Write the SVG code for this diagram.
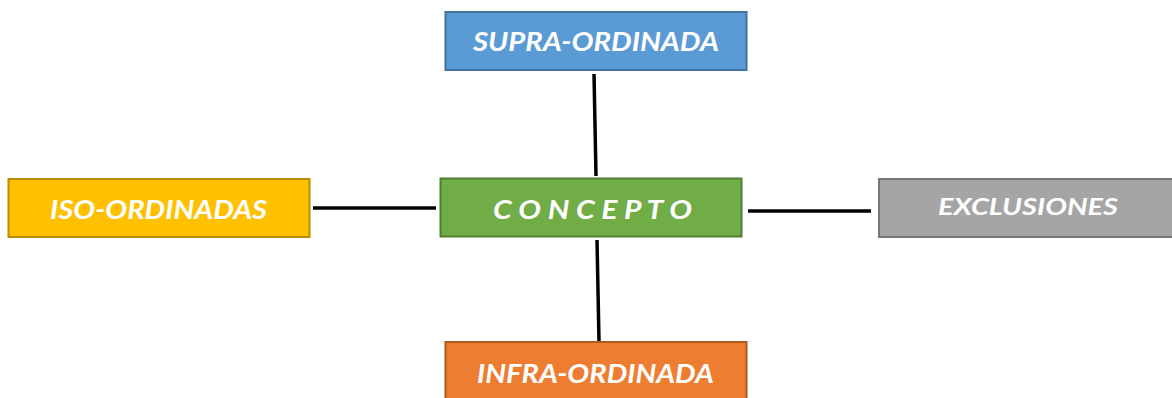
<svg xmlns="http://www.w3.org/2000/svg" width="1172" height="398" viewBox="0 0 1172 398">
<style>
.lbl{font-family:Lato,"Open Sans","Liberation Sans",sans-serif;font-weight:bold;font-style:italic;fill:#ffffff;text-anchor:middle}
.box{stroke-width:2}
.conn line{stroke:#000;stroke-width:3.5}
</style>
<rect width="1172" height="398" fill="#ffffff"/>
<g class="conn" id="connectors">
<line x1="594" y1="74" x2="596" y2="176"/>
<line x1="597" y1="240" x2="599" y2="341"/>
<line x1="313" y1="208" x2="436" y2="208"/>
<line x1="748" y1="211" x2="871" y2="211"/>
</g>
<g id="supra">
<rect class="box" x="445.5" y="12" width="301" height="58" fill="#5B9BD5" stroke="#41719C"/>
<text class="lbl" x="596" y="51" font-size="26" textLength="246" lengthAdjust="spacingAndGlyphs">SUPRA-ORDINADA</text>
</g>
<g id="iso">
<rect class="box" x="8.5" y="179" width="301" height="58" fill="#FFC000" stroke="#BC8C00"/>
<text class="lbl" x="158.5" y="219" font-size="26" textLength="217" lengthAdjust="spacingAndGlyphs">ISO-ORDINADAS</text>
</g>
<g id="concepto">
<rect class="box" x="440.5" y="178.5" width="301" height="58" fill="#70AD47" stroke="#507E32"/>
<text class="lbl" x="592.5" y="219" font-size="26" textLength="199" lengthAdjust="spacingAndGlyphs">C O N C E P T O</text>
</g>
<g id="exclusiones">
<rect class="box" x="879" y="179" width="300" height="58" fill="#A5A5A5" stroke="#787878"/>
<text class="lbl" x="1028" y="215" font-size="23" textLength="180" lengthAdjust="spacingAndGlyphs">EXCLUSIONES</text>
</g>
<g id="infra">
<rect class="box" x="445.5" y="342" width="301" height="70" fill="#ED7D31" stroke="#AE5A21"/>
<text class="lbl" x="595.5" y="383" font-size="26" textLength="237" lengthAdjust="spacingAndGlyphs">INFRA-ORDINADA</text>
</g>
</svg>
